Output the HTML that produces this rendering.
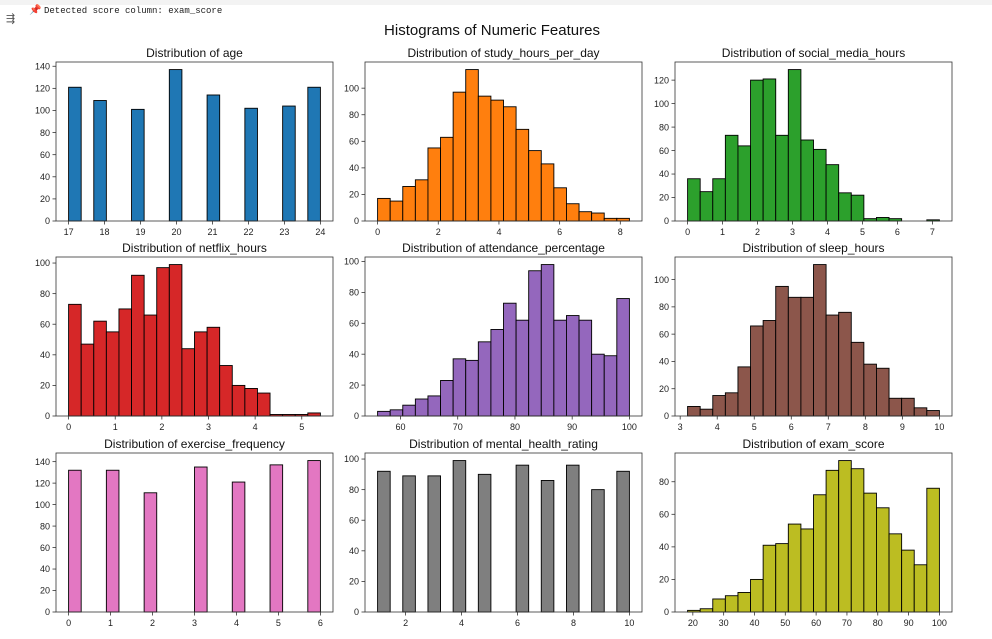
<!DOCTYPE html>
<html><head><meta charset="utf-8"><style>
body{margin:0;background:#fff;width:992px;height:639px;overflow:hidden;font-family:"Liberation Sans","DejaVu Sans",sans-serif}
#top{position:absolute;left:0;top:0;width:992px;height:5px;background:#f3f3f3}
#log{position:absolute;left:44px;top:6px;font:9px "Liberation Mono",monospace;color:#222}
#pin{position:absolute;left:29px;top:5px;font-size:10px;color:#e0245e}
#ico{position:absolute;left:6px;top:12px;font-size:11px;color:#555}
svg{position:absolute;left:0;top:0}
</style></head><body>
<div id="top"></div>
<div id="ico">⇶</div>
<div id="pin">📌</div>
<div id="log">Detected score column: exam_score</div>
<svg id="fig" width="992" height="639">
<text x="492" y="35" text-anchor="middle" font-size="15" fill="#111">Histograms of Numeric Features</text>
</svg>
<script>
// Data arrays
const ageCats=[17,18,19,20,21,22,23,24];
const ageCounts=[121,109,101,137,114,102,104,121];
const exCats=[0,1,2,3,4,5,6];
const exCounts=[132,132,111,135,121,137,141];
const mhCats=[1,2,3,4,5,6,7,8,9,10];
const mhCounts=[92,89,89,99,90,96,86,96,80,92];
const studyCounts=[17,15,26,31,55,63,97,114,94,91,86,69,53,43,25,13,7,6,2,2];
const socialCounts=[36,25,36,73,64,120,121,73,129,69,61,48,24,22,2,3,2,0,0,1];
const netflixCounts=[73,47,62,55,70,92,66,97,99,44,55,58,33,20,18,15,1,1,1,2];
const attendCounts=[3,4,7,11,13,23,37,36,48,56,73,62,94,98,62,65,62,40,39,76];
const sleepCounts=[7,5,15,17,36,66,70,95,87,87,111,74,76,54,38,35,13,13,6,4];
const examCounts=[1,2,8,10,12,20,41,42,54,51,72,87,93,88,73,64,48,38,29,76];
const ageTicks=[17,18,19,20,21,22,23,24];
const studyTicks=[0,2,4,6,8];
const socialTicks=[0,1,2,3,4,5,6,7];
const netflixTicks=[0,1,2,3,4,5];
const attendTicks=[60,70,80,90,100];
const sleepTicks=[3,4,5,6,7,8,9,10];
const exTicks=[0,1,2,3,4,5,6];
const mhTicks=[2,4,6,8,10];
const examTicks=[20,30,40,50,60,70,80,90,100];

const NS='http://www.w3.org/2000/svg';
const svg=document.getElementById('fig');
function mk(tag,attrs,parent){const e=document.createElementNS(NS,tag);for(const k in attrs)e.setAttribute(k,attrs[k]);(parent||svg).appendChild(e);return e;}

function discreteToBins(cats,counts){
  const mn=Math.min(...cats),mx=Math.max(...cats),w=(mx-mn)/20;
  const b=new Array(20).fill(0);
  cats.forEach((c,i)=>{let k=Math.floor((c-mn)/w+1e-9);if(k>19)k=19;b[k]+=counts[i];});
  return b;
}

const cols=[56,365,675], rows=[62,257,453], W=277, H=159;
function panel(id,title,color,mn,mx,bins,xticks,ystep,col,row){
  const L=cols[col],T=rows[row],B=T+H;
  const g=mk('g',{});
  
  
  const R=mx-mn, x0=mn-0.05*R, x1=mx+0.05*R;
  const ymax=Math.max(...bins)*1.05;
  const X=v=>L+(v-x0)/(x1-x0)*W;
  const Y=v=>B-v/ymax*H;
  const w=R/20;
  bins.forEach((c,i)=>{
    if(c<=0)return;
    const r=mk('rect',{x:X(mn+i*w),y:Y(c),width:X(mn+(i+1)*w)-X(mn+i*w),height:B-Y(c),fill:color,stroke:'#000','stroke-width':0.9},g);
    
    
  });
  const fr=mk('rect',{x:L,y:T,width:W,height:H,fill:'none',stroke:'#333','stroke-width':0.8},g);
  
  
  xticks.forEach(t=>{
    const x=X(t);
    mk('line',{x1:x,x2:x,y1:B,y2:B+3.5,stroke:'#333','stroke-width':0.8},g);
    const tx=mk('text',{x:x,y:B+14,'text-anchor':'middle','font-size':9,fill:'#222'},g);
    tx.textContent=t;
    
    
  });
  for(let v=0;v<=ymax;v+=ystep){
    const y=Y(v);
    mk('line',{x1:L-3.5,x2:L,y1:y,y2:y,stroke:'#333','stroke-width':0.8},g);
    const ty=mk('text',{x:L-6,y:y+3.2,'text-anchor':'end','font-size':9,fill:'#222'},g);
    ty.textContent=v;
    
    
  }
  const tt=mk('text',{x:L+W/2,y:T-5,'text-anchor':'middle','font-size':12,fill:'#111'},g);
  tt.textContent=title;
  
  
}
panel('age','Distribution of age','#1f77b4',17,24,discreteToBins(ageCats,ageCounts),ageTicks,20,0,0);
panel('study-hours','Distribution of study_hours_per_day','#ff7f0e',0,8.3,studyCounts,studyTicks,20,1,0);
panel('social-media','Distribution of social_media_hours','#2ca02c',0,7.2,socialCounts,socialTicks,20,2,0);
panel('netflix','Distribution of netflix_hours','#d62728',0,5.4,netflixCounts,netflixTicks,20,0,1);
panel('attendance','Distribution of attendance_percentage','#9467bd',56,100,attendCounts,attendTicks,20,1,1);
panel('sleep','Distribution of sleep_hours','#8c564b',3.2,10,sleepCounts,sleepTicks,20,2,1);
panel('exercise','Distribution of exercise_frequency','#e377c2',0,6,discreteToBins(exCats,exCounts),exTicks,20,0,2);
panel('mental-health','Distribution of mental_health_rating','#7f7f7f',1,10,discreteToBins(mhCats,mhCounts),mhTicks,20,1,2);
panel('exam-score','Distribution of exam_score','#bcbd22',18.3,100,examCounts,examTicks,20,2,2);
</script>
</body></html>
